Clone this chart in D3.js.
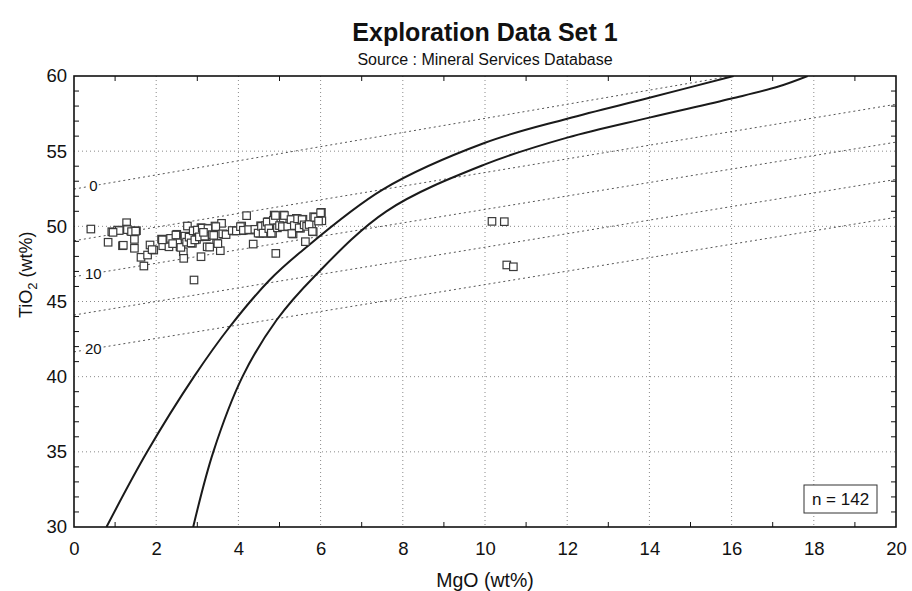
<!DOCTYPE html>
<html>
<head>
<meta charset="utf-8">
<script src="https://cdn.jsdelivr.net/npm/d3@7"></script>
<style>
  html, body { margin: 0; padding: 0; background: #fff; }
  svg { display: block; }
  text { font-family: "Liberation Sans", Arial, Helvetica, sans-serif; fill: #111; }
</style>
</head>
<body>
<svg id="chart" width="912" height="591"></svg>
<script>
// ---- chart text ----
const titleText = "Exploration Data Set 1";
const subtitleText = "Source : Mineral Services Database";
const xTitle = "MgO (wt%)";
const xDomain = [0, 20];
const yDomain = [30, 60];
const xTickValues = [0, 2, 4, 6, 8, 10, 12, 14, 16, 18, 20];
const yTickValues = [30, 35, 40, 45, 50, 55, 60];

// ---- samples: MgO (wt%) and TiO2 (wt%) ----
const sampleMgO = [
  0.41, 0.83, 0.92, 1.06, 1.28, 1.28, 1.18, 1.38, 1.47, 1.47,
  1.52, 1.63, 1.70, 1.79, 1.85, 1.94, 2.13, 2.16, 2.31, 2.33,
  2.50, 2.45, 2.58, 2.66, 2.67, 2.76, 2.78, 2.88, 2.92, 2.96,
  2.98, 3.09, 3.09, 3.09, 3.22, 3.24, 3.29, 3.40, 3.43, 3.47,
  3.56, 3.59, 3.65, 3.89, 4.08, 4.09, 4.20, 4.30, 4.36, 4.54,
  4.52, 4.72, 4.68, 4.83, 4.87, 4.91, 4.76, 4.91, 5.05, 5.10,
  5.17, 5.25, 5.33, 5.41, 5.39, 5.51, 5.57, 5.63, 5.78, 5.82,
  5.83, 6.02, 6.03, 10.17, 10.47, 10.53, 10.69,
  1.30, 1.40, 1.50, 2.15, 2.35, 2.48, 2.52, 2.60, 2.70, 2.74,
  2.80, 2.85, 2.90, 2.94, 3.00, 3.05, 3.12, 3.18, 3.26, 3.30,
  3.36, 3.45, 3.50, 3.62, 3.70, 3.85, 3.95, 4.05, 4.12, 4.25,
  4.40, 4.48, 4.56, 4.60, 4.66, 4.70, 4.74, 4.80, 4.85, 4.90,
  4.95, 5.00, 5.07, 5.12, 5.20, 5.28, 5.30, 5.36, 5.44, 5.48,
  5.55, 5.60, 5.66, 5.72, 5.80, 5.86, 5.95, 6.00, 1.10, 0.95,
  1.20, 1.90, 2.40, 3.40, 3.15
];
const sampleTiO2 = [
  49.82, 48.94, 49.64, 49.75, 50.24, 49.82, 48.71, 49.69, 49.13, 48.54,
  49.71, 47.94, 47.36, 48.09, 48.76, 48.42, 49.15, 48.71, 48.64, 49.15,
  49.47, 48.87, 48.64, 48.31, 47.87, 50.02, 49.31, 48.87, 46.43, 49.71,
  49.13, 49.91, 49.35, 47.98, 49.31, 48.64, 49.87, 49.42, 50.02, 48.87,
  48.38, 50.20, 49.47, 49.69, 50.02, 49.71, 50.71, 49.75, 48.82, 50.04,
  49.53, 50.31, 49.53, 49.53, 50.75, 50.42, 49.87, 48.20, 50.02, 50.75,
  49.97, 50.47, 49.49, 50.53, 50.02, 49.87, 50.47, 48.98, 50.09, 49.64,
  50.64, 50.93, 50.37, 50.33, 50.31, 47.43, 47.31,
  49.78, 49.65, 49.68, 49.10, 49.20, 49.42, 48.90, 48.60, 49.35, 48.95,
  49.28, 48.90, 49.70, 49.10, 49.75, 49.30, 49.88, 49.35, 49.85, 48.62,
  49.45, 49.98, 48.85, 49.50, 49.45, 49.72, 49.70, 49.98, 49.74, 49.78,
  49.80, 49.55, 50.00, 49.55, 50.05, 50.28, 49.85, 49.55, 50.40, 50.72,
  49.90, 50.05, 49.98, 50.72, 50.00, 50.45, 49.52, 50.05, 50.50, 49.90,
  50.45, 50.10, 50.00, 50.12, 49.66, 50.60, 50.35, 50.90, 49.72, 49.60,
  48.74, 48.45, 48.85, 49.40, 49.60
];

// ---- boundary curves ----
const curveAMgO  = [0.79, 1.78, 2.92, 3.79, 4.76, 5.49, 7.52, 10.00, 12.00, 14.00, 16.05];
const curveATiO2 = [30.0, 35.0, 40.0, 43.32, 46.43, 48.24, 52.46, 55.56, 57.16, 58.55, 60.0];
const curveBMgO  = [2.90, 3.39, 4.10, 4.93, 5.86, 7.60, 10.00, 12.00, 14.00, 16.00, 17.14, 17.85];
const curveBTiO2 = [30.0, 35.0, 40.0, 43.77, 46.70, 51.00, 54.12, 55.90, 57.23, 58.50, 59.30, 60.0];

// ---- reference lines (TiO2 at MgO = 0 and MgO = 20) ----
const refLineNames = [0, 5, 10, 15, 20];
const refLineStart = [52.48, 49.04, 46.65, 44.10, 41.65];
const refLineEnd   = [61.88, 58.12, 55.60, 53.12, 50.60];
const refLineLabeled = [true, false, true, false, true];

// ---- layout ----
const svg = d3.select("#chart");
const plot = { left: 74, right: 896, top: 76, bottom: 527 };
const x = d3.scaleLinear().domain(xDomain).range([plot.left, plot.right]);
const y = d3.scaleLinear().domain(yDomain).range([plot.bottom, plot.top]);
const midX = (plot.left + plot.right) / 2;

svg.append("defs").append("clipPath").attr("id", "plotClip")
  .append("rect")
  .attr("x", plot.left).attr("y", plot.top)
  .attr("width", plot.right - plot.left).attr("height", plot.bottom - plot.top);

// titles
svg.append("text").attr("x", midX).attr("y", 41)
  .attr("text-anchor", "middle").attr("font-size", 25).attr("font-weight", "bold")
  .attr("fill", "#1a1a1a")
  .text(titleText);
svg.append("text").attr("x", midX).attr("y", 65)
  .attr("text-anchor", "middle").attr("font-size", 16)
  .text(subtitleText);

// grid
const grid = svg.append("g").attr("stroke", "#8a8a8a").attr("stroke-width", 1)
  .attr("stroke-dasharray", "1,3");
grid.selectAll(".gx").data(xTickValues.slice(1, -1)).join("line")
  .attr("x1", d => x(d)).attr("x2", d => x(d))
  .attr("y1", plot.top).attr("y2", plot.bottom);
grid.selectAll(".gy").data(yTickValues.slice(1, -1)).join("line")
  .attr("y1", d => y(d)).attr("y2", d => y(d))
  .attr("x1", plot.left).attr("x2", plot.right);

// reference lines
const refData = refLineNames.map((n, i) => ({
  name: n, y0: refLineStart[i], y1: refLineEnd[i], labeled: refLineLabeled[i]
}));
const clipped = svg.append("g").attr("clip-path", "url(#plotClip)");
clipped.selectAll(".ref").data(refData).join("line")
  .attr("x1", x(xDomain[0])).attr("y1", d => y(d.y0))
  .attr("x2", x(xDomain[1])).attr("y2", d => y(d.y1))
  .attr("stroke", "#555").attr("stroke-width", 1).attr("stroke-dasharray", "2,3");

const labelMgO = 0.47;
const refLabels = svg.append("g");
refData.filter(d => d.labeled).forEach(d => {
  const ty = d.y0 + (d.y1 - d.y0) * (labelMgO - xDomain[0]) / (xDomain[1] - xDomain[0]);
  const g = refLabels.append("g");
  const t = g.append("text")
    .attr("x", x(labelMgO)).attr("y", y(ty)).attr("dy", "0.35em")
    .attr("text-anchor", "middle").attr("font-size", 15).attr("fill", "#333")
    .text(d.name);
  const bb = t.node().getBBox();
  g.insert("rect", "text")
    .attr("x", bb.x - 1).attr("y", bb.y + 3)
    .attr("width", bb.width + 2).attr("height", bb.height - 6)
    .attr("fill", "#fff");
});

// boundary curves
const line = d3.line().x(d => x(d[0])).y(d => y(d[1])).curve(d3.curveCatmullRom.alpha(0.5));
[[curveAMgO, curveATiO2], [curveBMgO, curveBTiO2]].forEach(([mx, ty]) => {
  clipped.append("path")
    .datum(mx.map((v, i) => [v, ty[i]]))
    .attr("d", line)
    .attr("fill", "none").attr("stroke", "#1a1a1a").attr("stroke-width", 2);
});

// samples
const samples = sampleMgO.map((v, i) => ({ mgo: v, tio2: sampleTiO2[i] }));
const sq = 7.5;
svg.append("g").selectAll("rect").data(samples).join("rect")
  .attr("x", d => x(d.mgo) - sq / 2).attr("y", d => y(d.tio2) - sq / 2)
  .attr("width", sq).attr("height", sq)
  .attr("fill", "#fff").attr("stroke", "#3a3a3a").attr("stroke-width", 1.2);

// axes with inward ticks
const xMinor = d3.range(xDomain[0], xDomain[1] + 1).filter(v => v % 2 !== 0);
const yMinor = d3.range(yDomain[0], yDomain[1] + 1).filter(v => v % 5 !== 0);

const xAxisB = d3.axisBottom(x).tickValues(xTickValues).tickSize(0).tickPadding(15)
  .tickFormat(d3.format("d"));
const yAxisL = d3.axisLeft(y).tickValues(yTickValues).tickSize(0).tickPadding(7)
  .tickFormat(d3.format("d"));

const gxb = svg.append("g").attr("transform", `translate(0,${plot.bottom})`).call(xAxisB);
const gyl = svg.append("g").attr("transform", `translate(${plot.left},0)`).call(yAxisL);
[gxb, gyl].forEach(g => {
  g.select(".domain").remove();
  g.selectAll("text").attr("font-size", 18.5).attr("fill", "#111")
    .style("font-family", "'Liberation Sans', Arial, sans-serif");
});

const tickLen = 5;
const ticks = svg.append("g").attr("stroke", "#111").attr("stroke-width", 1);
ticks.selectAll(".xb").data(xMinor).join("line")
  .attr("x1", d => x(d)).attr("x2", d => x(d))
  .attr("y1", plot.bottom).attr("y2", plot.bottom - tickLen);
ticks.selectAll(".xt").data(xMinor).join("line")
  .attr("x1", d => x(d)).attr("x2", d => x(d))
  .attr("y1", plot.top).attr("y2", plot.top + tickLen);
ticks.selectAll(".yl").data(yMinor).join("line")
  .attr("y1", d => y(d)).attr("y2", d => y(d))
  .attr("x1", plot.left).attr("x2", plot.left + tickLen);
ticks.selectAll(".yr").data(yMinor).join("line")
  .attr("y1", d => y(d)).attr("y2", d => y(d))
  .attr("x1", plot.right).attr("x2", plot.right - tickLen);

// frame
svg.append("rect")
  .attr("x", plot.left).attr("y", plot.top)
  .attr("width", plot.right - plot.left).attr("height", plot.bottom - plot.top)
  .attr("fill", "none").attr("stroke", "#111").attr("stroke-width", 1.6);

// axis titles
svg.append("text").attr("x", midX).attr("y", 587)
  .attr("text-anchor", "middle").attr("font-size", 19.5).text(xTitle);
// y title starts at the bottom and reads upward
const yt = svg.append("text")
  .attr("transform", "translate(32,318) rotate(-90)")
  .attr("text-anchor", "start").attr("font-size", 18);
yt.append("tspan").text("TiO");
yt.append("tspan").attr("font-size", 13).attr("dy", 5).text("2");
yt.append("tspan").attr("dy", -5).text(" (wt%)");

// sample count box
const nBox = svg.append("g");
nBox.append("rect").attr("x", 804).attr("y", 485).attr("width", 73).attr("height", 28)
  .attr("fill", "#fff").attr("stroke", "#333").attr("stroke-width", 1);
nBox.append("text").attr("x", 840.5).attr("y", 499.5).attr("dy", "0.35em")
  .attr("text-anchor", "middle").attr("font-size", 17)
  .text(`n = ${samples.length}`);
</script>
</body>
</html>
